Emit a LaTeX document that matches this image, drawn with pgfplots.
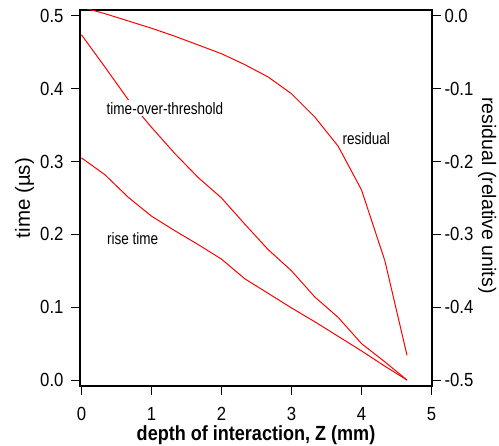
\documentclass[border=0pt]{standalone}
\usepackage{fontspec}
\setmainfont{Liberation Sans}[FakeStretch=0.88]
\newfontfamily\annfont{Liberation Sans}[FakeStretch=0.82]
\newfontfamily\rotfont{Liberation Sans}
\usepackage{pgfplots}
\usepackage{pgfplotstable}
\pgfplotsset{compat=1.18}

% depth of interaction data (time in us, residual in relative units)
\pgfplotstableread{
z      tot    rise
0.000  0.474  0.305
0.333  0.430  0.282
0.667  0.385  0.251
1.000  0.347  0.225
1.333  0.311  0.205
1.667  0.278  0.186
2.000  0.250  0.166
2.333  0.214  0.139
2.667  0.179  0.119
3.000  0.150  0.099
3.333  0.114  0.080
3.667  0.086  0.060
4.000  0.050  0.040
4.333  0.025  0.019
4.650  0.000  0.000
}\timedata
\pgfplotstableread{
z      res
0.000   0.012
0.333   0.003
0.667  -0.007
1.000  -0.017
1.333  -0.028
1.667  -0.040
2.000  -0.052
2.333  -0.067
2.667  -0.084
3.000  -0.107
3.333  -0.139
3.667  -0.179
4.000  -0.239
4.333  -0.336
4.650  -0.466
}\resdata

\pgfplotsset{
  doistyle/.style={
    scale only axis,
    width=352bp, height=376bp,
    at={(0,0)}, anchor=south west,
    xmin=-0.021, xmax=5.007,
    tick align=outside,
    major tick length=9bp,
    every tick/.style={black, line width=1bp},
    axis line style={line width=1.1bp, black},
    /pgf/number format/assume math mode=true,
    tick label style={font=\fontsize{19bp}{21bp}\selectfont},
  },
}

\begin{document}
\begin{tikzpicture}
\path[use as bounding box] (-80bp,-60bp) rectangle (419bp,386bp);

\begin{axis}[
  doistyle,
  ymin=-0.0082, ymax=0.508,
  xtick={0,1,2,3,4,5},
  ytick={0,0.1,0.2,0.3,0.4,0.5},
  xtick pos=lower, ytick pos=left,
  xticklabel style={inner sep=0.5bp, yshift=-12bp},
  yticklabel style={xshift=-4bp, /pgf/number format/.cd, fixed, fixed zerofill, precision=1},
]
\addplot[red, line width=1bp] table[x=z, y=tot] {\timedata};
\addplot[red, line width=1bp] table[x=z, y=rise] {\timedata};
\node[fill=white, inner sep=2bp, anchor=base, font=\annfont\fontsize{16.5bp}{18bp}\selectfont] at (axis cs:1.193,0.365) {time-over-threshold};
\node[anchor=base, font=\annfont\fontsize{16.5bp}{18bp}\selectfont] at (axis cs:0.731,0.1854) {rise time};
\end{axis}

\begin{axis}[
  doistyle,
  ymin=-0.5082, ymax=0.008,
  axis x line=none,
  axis y line*=right,
  ytick={-0.5,-0.4,-0.3,-0.2,-0.1,0},
  yticklabel style={/pgf/number format/.cd, fixed, fixed zerofill, precision=1},
]
\addplot[red, line width=1bp] table[x=z, y=res] {\resdata};
\node[anchor=base, font=\annfont\fontsize{16.5bp}{18bp}\selectfont] at (axis cs:4.067,-0.176) {residual};
\end{axis}

% axis titles
\node[anchor=base, inner sep=0pt, font=\bfseries\fontsize{20.5bp}{22bp}\selectfont] at (176bp,-54bp) {depth of interaction, Z (mm)};
\node[anchor=base, rotate=90, font=\rotfont\fontsize{20.5bp}{22bp}\selectfont] at (-50bp,188bp) {time (µs)};
\node[anchor=base, rotate=-90, font=\rotfont\fontsize{19.5bp}{21bp}\selectfont] at (402bp,190.5bp) {residual (relative units)};
\end{tikzpicture}
\end{document}
